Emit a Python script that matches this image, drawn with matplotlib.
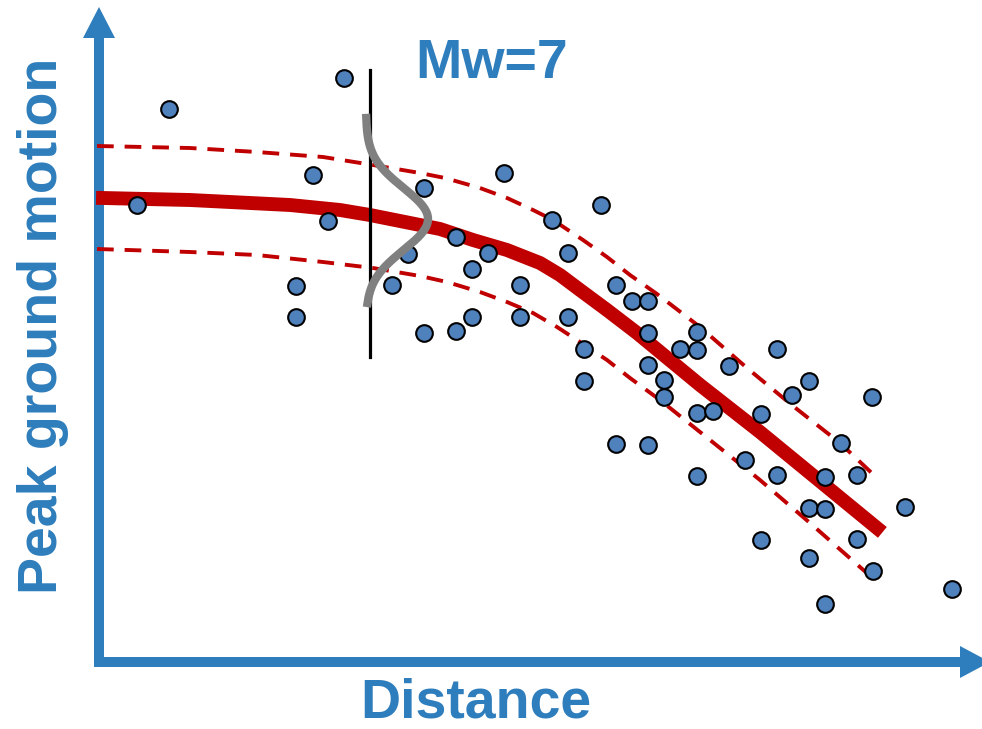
import numpy as np
import matplotlib
matplotlib.use("Agg")
import matplotlib.pyplot as plt

# Observations (distance, peak ground motion) in arbitrary units
dist = [40, 72, 247, 216, 231, 199, 199, 327, 311, 295, 327, 359, 375, 391, 359,
        375, 407, 423, 423, 455, 471, 504, 471, 487, 487, 519, 535, 551, 551, 519,
        551, 551, 567, 567, 583, 600, 600, 600, 616, 632, 600, 648, 664, 680, 695,
        712, 680, 664, 712, 728, 728, 744, 760, 775, 712, 728, 760, 776, 808, 855]
pgm = [457, 553, 584, 487, 441, 376, 345, 474, 408, 377, 329, 425, 393, 409, 331,
       345, 489, 377, 345, 442, 409, 457, 345, 313, 281, 377, 361, 361, 329, 218,
       217, 297, 282, 265, 313, 330, 312, 249, 251, 296, 186, 202, 248, 313, 267,
       281, 187, 122, 154, 153, 185, 219, 187, 265, 104, 58, 123, 91, 155, 73]

# Median prediction and +/- one sigma
med_x = [6, 93, 193, 243, 273, 323, 343, 376, 410, 443, 463, 483, 510, 540,
         603, 663, 780]
med_y = [464, 462, 457, 452, 447, 437, 433, 422, 412, 399, 387, 372, 352, 329,
         277, 230, 134]
up_x = [0, 93, 160, 226, 276, 323, 348, 383, 410, 436, 456, 486, 510, 533,
        560, 603, 650, 696, 743, 780]
up_y = [516, 514, 510, 505, 497, 489, 484, 474, 464, 452, 442, 422, 405, 387,
        368, 335, 294, 256, 219, 184]
lo_x = [0, 93, 160, 226, 276, 323, 350, 383, 410, 436, 460, 483, 510, 533,
        563, 613, 663, 713, 780]
lo_y = [413, 410, 407, 400, 394, 386, 380, 370, 360, 349, 335, 320, 302, 284,
        262, 222, 182, 139, 80]

# distribution sketch at one distance
slice_x = 273
slice_lo, slice_hi = 305, 592
pdf_mean, pdf_sigma, pdf_height = 443, 31, 62

blue = "#2E7DBC"
red = "#C00000"

fig = plt.figure(figsize=(9.82, 7.29), dpi=100)
ax = fig.add_axes([0, 0, 1, 1])
ax.set_xlim(-97, 885)
ax.set_ylim(-67, 662)
ax.axis("off")

# axes arrows
ax.arrow(2, -5, 0, 660, width=10, head_width=32, head_length=31,
         length_includes_head=True, color=blue, lw=0)
ax.arrow(-3, 0, 896, 0, width=10, head_width=32, head_length=30,
         length_includes_head=True, color=blue, lw=0)

ax.plot(up_x, up_y, color=red, lw=2.8, ls=(0, (4.3, 2.8)), zorder=2)
ax.plot(lo_x, lo_y, color=red, lw=2.8, ls=(0, (4.3, 2.8)), zorder=2)
ax.plot(med_x, med_y, color=red, lw=10, solid_joinstyle="round", zorder=3)

ax.plot(dist, pgm, "o", ms=12, mfc="#4F81BD", mec="black", mew=1.5, zorder=4)

ax.plot([slice_x, slice_x], [slice_lo, slice_hi], color="black", lw=2.3, zorder=5)
yy = np.linspace(359, 544, 200)
xx = slice_x - 4 + pdf_height * np.exp(-0.5 * ((yy - pdf_mean) / pdf_sigma) ** 2)
ax.plot(xx, yy, color="#808080", lw=6, zorder=6)

font = ["Liberation Sans", "DejaVu Sans"]
fig.text(415 / 982, 1 - 78 / 729, "Mw=7", color=blue, fontsize=40,
         fontweight="bold", family=font, ha="left", va="baseline")
fig.text(360 / 982, 1 - 718 / 729, "Distance", color=blue, fontsize=40,
         fontweight="bold", family=font, ha="left", va="baseline")
fig.text(17 / 982, 1 - 326 / 729, "Peak ground motion", color=blue, fontsize=40,
         fontweight="bold", family=font, rotation=90, ha="left", va="center")

fig.savefig("out.png", dpi=100)
